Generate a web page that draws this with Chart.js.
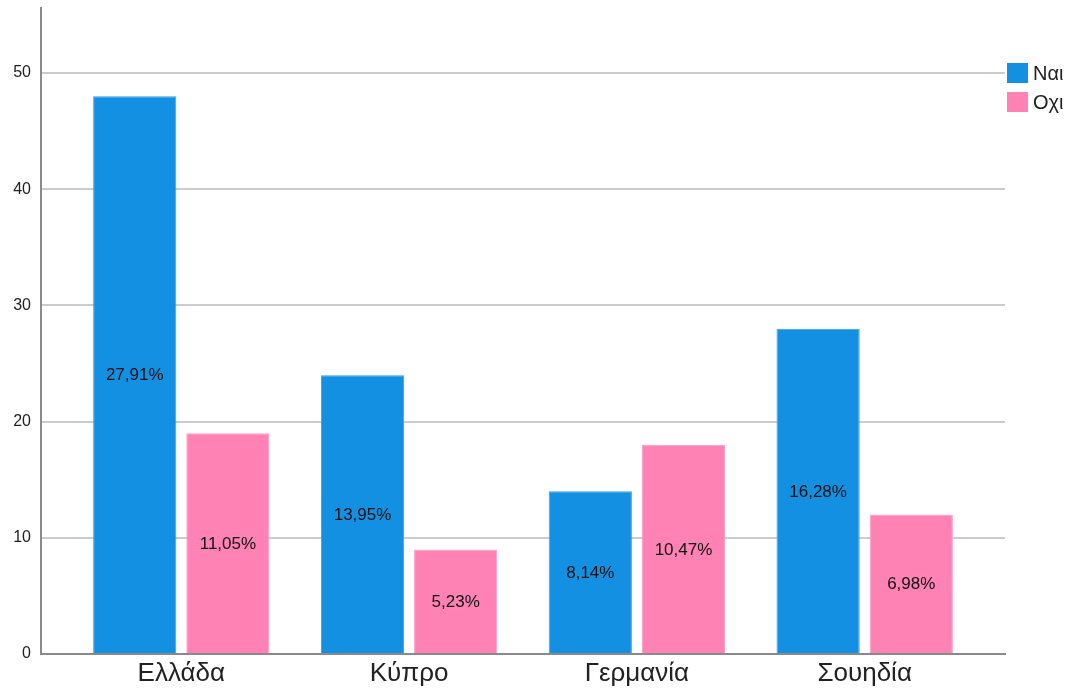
<!DOCTYPE html>
<html>
<head>
<meta charset="utf-8">
<script src="https://cdn.jsdelivr.net/npm/chart.js@4/dist/chart.umd.min.js"></script>
<style>
  html, body { margin: 0; padding: 0; background: #fff; }
  #wrap { width: 1070px; height: 692px; position: relative; }
</style>
</head>
<body>
<div id="wrap"><canvas id="chart"></canvas></div>
<script>
// ── DATA ──────────────────────────────────────────────
const categories = ['Ελλάδα', 'Κύπρο', 'Γερμανία', 'Σουηδία'];
const seriesNames = ['Ναι', 'Οχι'];
const naiValues = [48, 24, 14, 28];
const oxiValues = [19, 9, 18, 12];
const naiPercents = ['27,91%', '13,95%', '8,14%', '16,28%'];
const oxiPercents = ['11,05%', '5,23%', '10,47%', '6,98%'];
const yTicks = [0, 10, 20, 30, 40, 50];

const BLUE = '#1490e3';
const PINK = '#ff82b4';
const FONT = 'Liberation Sans, Arial, sans-serif';

// ── PLUGINS ───────────────────────────────────────────
// percentage text in the middle of each bar
const barLabels = {
  id: 'barLabels',
  afterDatasetsDraw(chart) {
    const ctx = chart.ctx;
    ctx.save();
    ctx.font = '17px ' + FONT;
    ctx.fillStyle = '#111';
    ctx.textAlign = 'center';
    ctx.textBaseline = 'middle';
    chart.data.datasets.forEach((ds, di) => {
      chart.getDatasetMeta(di).data.forEach((bar, i) => {
        ctx.fillText(ds.pctLabels[i], bar.x, (bar.y + bar.base) / 2 + 1);
      });
    });
    ctx.restore();
  }
};

// legend at the right edge (cut off like the original)
const sideLegend = {
  id: 'sideLegend',
  afterDraw(chart) {
    const ctx = chart.ctx;
    ctx.save();
    ctx.font = '20px ' + FONT;
    ctx.textBaseline = 'middle';
    chart.data.datasets.forEach((ds, i) => {
      const y = 63 + i * 29;
      ctx.fillStyle = ds.backgroundColor;
      ctx.fillRect(1007, y, 21, 20);
      ctx.fillStyle = '#222';
      ctx.fillText(ds.label, 1033, y + 11);
    });
    ctx.restore();
  }
};

// ── CHART ─────────────────────────────────────────────
const toPoints = arr => arr.map((v, i) => ({ x: i, y: v }));

new Chart(document.getElementById('chart'), {
  type: 'bar',
  data: {
    datasets: [
      { label: seriesNames[0], data: toPoints(naiValues), pctLabels: naiPercents,
        backgroundColor: BLUE, borderColor: '#3aa0e8', borderWidth: 1 },
      { label: seriesNames[1], data: toPoints(oxiValues), pctLabels: oxiPercents,
        backgroundColor: PINK, borderColor: '#ff9cc4', borderWidth: 1 }
    ]
  },
  options: {
    responsive: true,
    maintainAspectRatio: false,
    animation: false,
    categoryPercentage: 0.818,
    barPercentage: 0.893,
    layout: { padding: { top: 8, right: 65, left: 0, bottom: 0 } },
    plugins: {
      legend: { display: false },
      tooltip: { enabled: false }
    },
    scales: {
      x: {
        type: 'linear',
        offset: false,
        min: -0.616,
        max: 3.616,
        afterFit: s => { s.height = 38; s.paddingLeft = 0; s.paddingRight = 0; },
        afterBuildTicks: s => { s.ticks = categories.map((c, i) => ({ value: i })); },
        ticks: {
          autoSkip: false,
          maxRotation: 0,
          padding: 4,
          color: '#222',
          font: { family: FONT, size: 26 },
          callback: v => categories[v] ?? ''
        },
        grid: { display: false, drawTicks: false },
        border: { display: true, color: '#8a8a8a', width: 2 }
      },
      y: {
        min: 0,
        max: 55.6,
        afterFit: s => { s.width = 41; s.paddingTop = 0; s.paddingBottom = 0; },
        afterBuildTicks: s => { s.ticks = yTicks.map(v => ({ value: v })); },
        ticks: {
          padding: 10,
          color: '#222',
          font: { family: FONT, size: 16 }
        },
        grid: {
          drawTicks: false,
          lineWidth: 2,
          color: c => (c.tick && c.tick.value > 0) ? '#cccccc' : 'transparent'
        },
        border: { display: true, color: '#8a8a8a', width: 2 }
      }
    }
  },
  plugins: [barLabels, sideLegend]
});
</script>
</body>
</html>
